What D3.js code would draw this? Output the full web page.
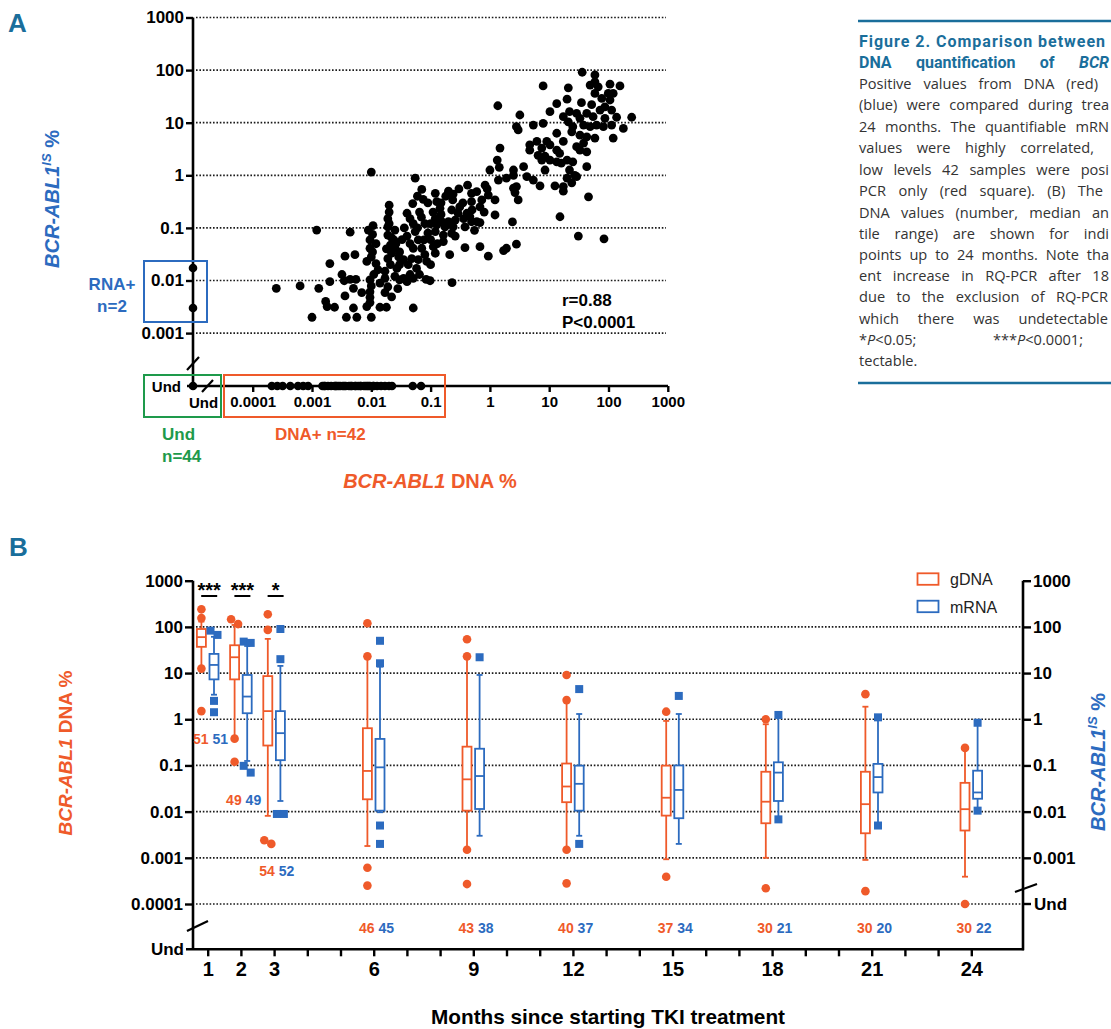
<!DOCTYPE html>
<html>
<head>
<meta charset="utf-8">
<script src="https://cdn.jsdelivr.net/npm/d3@7"></script>
<style>
body { margin: 0; background: #fff; }
svg { display: block; }
</style>
</head>
<body>
<div id="container"></div>
<script>
// ---------- panel A data : BCR-ABL1 DNA % vs mRNA IS % ----------
let dnaTicksA = [1e-4, 1e-3, 0.01, 0.1, 1, 10, 100, 1000];
let rnaTicksA = [1e-3, 0.01, 0.1, 1, 10, 100, 1000];

// [DNA %, mRNA IS %] for samples positive by both methods
let bothPos = [
  [0.01,1.15],[0.055,0.88],[0.071,0.54],[0.02,0.27],[0.05,0.29],[0.04,0.19],[0.0012,0.091],[0.0044,0.083],
  [0.0089,0.091],[0.019,0.15],[0.019,0.105],[0.025,0.091],[0.019,0.073],[0.024,0.059],[0.021,0.047],[0.025,0.041],
  [0.022,0.033],[0.019,0.026],[0.029,0.028],[0.021,0.02],[0.03,0.02],[0.027,0.017],[0.051,0.12],[0.055,0.085],
  [0.062,0.059],[0.077,0.059],[0.051,0.041],[0.071,0.041],[0.08,0.031],[0.048,0.026],[0.062,0.025],[0.086,0.023],
  [0.042,0.02],[0.058,0.017],[0.0095,0.059],[0.0095,0.041],[0.01,0.028],[0.0084,0.023],[0.012,0.021],[0.0053,0.031],
  [0.0036,0.029],[0.002,0.021],[0.00025,0.0071],[0.00063,0.0079],[0.0013,0.0071],[0.002,0.0095],[0.0032,0.013],[0.0035,0.0099],
  [0.0044,0.0105],[0.0055,0.0105],[0.0095,0.0103],[0.01,0.0079],[0.0095,0.0061],[0.0095,0.0048],[0.014,0.0089],[0.017,0.011],
  [0.019,0.0076],[0.017,0.0059],[0.022,0.0049],[0.03,0.0103],[0.04,0.0095],[0.051,0.011],[0.084,0.0105],[0.005,0.0071],
  [0.0069,0.0059],[0.0036,0.0051],[0.0017,0.004],[0.0018,0.0032],[0.0024,0.0031],[0.005,0.003],[0.0084,0.0032],[0.0095,0.0038],
  [0.014,0.0031],[0.018,0.0031],[0.051,0.003],[0.001,0.002],[0.0038,0.002],[0.0057,0.002],[0.01,0.002],[0.23,0.0091],
  [0.098,0.0099],[1.36,21],[1.33,1.95],[1.44,1.42],[1.0,1.26],[1.39,0.81],[0.83,0.65],[0.6,0.49],
  [0.49,0.455],[0.94,0.42],[1.22,0.34],[0.73,0.34],[0.49,0.315],[0.68,0.25],[1.22,0.176],[0.12,0.455],
  [0.127,0.315],[0.24,0.44],[0.236,0.34],[0.144,0.236],[0.31,0.25],[0.227,0.219],[0.29,0.19],[0.41,0.19],
  [0.46,0.163],[0.36,0.15],[0.49,0.131],[0.6,0.131],[0.26,0.141],[0.2,0.131],[0.154,0.131],[0.12,0.152],
  [0.127,0.114],[0.175,0.105],[0.24,0.105],[0.38,0.105],[0.68,0.126],[0.227,0.079],[0.164,0.073],[0.12,0.085],
  [0.164,0.055],[0.111,0.044],[0.21,0.031],[0.38,0.042],[0.68,0.044],[0.94,0.029],[36,91],[59,81],
  [59,60],[49,52],[67,48],[106,54],[156,50],[7.9,50],[21,46],[59,36],
  [99,36],[120,36],[77,29],[106,27],[20,28],[13.4,23],[35,24],[52,22],
  [87,20],[72,17.4],[113,17.4],[22,16.2],[10.3,16.2],[29,15],[43,15],[55,13],
  [33,12.1],[17.3,13],[87,12.1],[137,12.7],[246,12.7],[3.2,14],[2.8,8.4],[3.0,7.3],
  [5.4,9.0],[7.9,9.7],[21,10.4],[25,8.4],[38,9.0],[49,8.4],[63,9.0],[82,8.4],
  [113,9.0],[178,7.8],[120,5.1],[13.4,6.3],[24,6.7],[33,5.8],[43,5.4],[59,5.1],
  [38,4.1],[17.3,4.4],[6.2,4.4],[4.7,3.8],[9.1,4.4],[10.3,3.8],[29,3.5],[33,3.0],
  [43,2.8],[13.4,3.0],[7.5,3.3],[4.7,3.0],[6.5,2.4],[8.5,2.3],[15,2.6],[20,1.95],
  [13.4,1.8],[10.3,1.95],[16,1.7],[25,1.8],[22,1.26],[27,1.0],[43,1.46],[8.5,1.26],
  [7.5,1.95],[1.48,3.3],[1.9,0.88],[2.5,1.0],[2.5,1.26],[3.7,1.46],[4.2,0.94],[5.4,0.81],
  [2.5,0.57],[2.8,0.61],[2.65,0.47],[3.0,0.34],[7.0,0.63],[12.5,0.63],[17.3,0.61],[17.3,0.5],
  [20,0.88],[24,0.72],[29,0.94],[46,0.39],[15.2,0.163],[31,0.07],[84,0.062],[2.4,0.13],
  [1.7,0.037],[1.9,0.041],[2.8,0.049],
  // dense, overlapping part of the main cluster
  [0.02,0.2],[0.02,0.12],[0.022,0.065],[0.018,0.04],[0.026,0.05],[0.03,0.035],[0.033,0.06],[0.036,0.1],
  [0.04,0.07],[0.045,0.05],[0.045,0.15],[0.06,0.1],[0.065,0.2],[0.07,0.16],[0.08,0.12],[0.09,0.08],
  [0.1,0.06],[0.1,0.12],[0.11,0.2],[0.09,0.3],[0.075,0.35],[0.06,0.4],[0.15,0.18],[0.13,0.05],
  [0.035,0.025],[0.045,0.013],[0.012,0.05],[0.011,0.013],[0.013,0.016],[0.025,0.012],[0.028,0.007],[0.0105,0.035],
  [0.0105,0.075],[0.0107,0.11],[0.017,0.015],[0.035,0.011],[0.065,0.013],[0.1,0.02],[0.12,0.033],[0.15,0.3],
  [0.18,0.4],[0.3,0.55],[0.35,0.3],[0.5,0.22],[0.2,0.5],[0.42,0.65],[0.26,0.07],[0.55,0.09],[0.8,0.2],[0.9,0.55]
];
// DNA positive, mRNA undetectable (n=42)
let dnaOnly = [0.00021,0.00026,0.00032,0.00043,0.00058,0.00071,0.00086,0.0015,0.0016,0.00166,
  0.00186,0.0021,0.0024,0.0025,0.0026,0.0028,0.003,0.0033,0.0035,0.0037,0.0042,0.0045,0.0047,
  0.0053,0.0055,0.006,0.0065,0.0067,0.0075,0.008,0.0085,0.009,0.0095,0.0107,0.011,0.0125,
  0.0146,0.017,0.0199,0.0223,0.05,0.069];
// mRNA positive, DNA undetectable (n=2)
let rnaOnly = [0.0173, 0.003];
let bothUnd = [44];

// ---------- panel B data : box plots by month ----------
let months = [1, 2, 3, 6, 9, 12, 15, 18, 21, 24];
let dnaN = [51, 49, 54, 46, 43, 40, 37, 30, 30, 30];
let rnaN = [51, 49, 52, 45, 38, 37, 34, 21, 20, 22];

let dnaLo  = [12.7, 0.39, 0.0081, 0.0018, 0.0015, 0.0015, 0.00093, 0.001, 0.0009, 0.00039];
let dnaQ1  = [37, 7.3, 0.27, 0.0185, 0.0105, 0.016, 0.0082, 0.0056, 0.0034, 0.0039];
let dnaMed = [60, 22, 1.5, 0.076, 0.05, 0.035, 0.02, 0.0164, 0.0145, 0.0113];
let dnaQ3  = [90, 40, 8.6, 0.64, 0.255, 0.11, 0.099, 0.073, 0.073, 0.042];
let dnaHi  = [130, 110, 55, 21, 23, 2.6, 0.92, 0.78, 1.87, 0.235];
let dnaOut = [[240,155,12.5,1.5],[115,146,0.38,0.12],[187,86,0.002,0.0024],[120,23,0.00061,0.00025],
  [54,23,0.0015,0.00027],[9.1,2.6,0.0015,0.00028],[1.46,0.00039],[1.0,0.00022],[3.5,0.00019],[0.24,0.0001]];

let rnaLo  = [3.4, 0.125, 0.017, 0.0097, 0.003, 0.003, 0.002, 0.0068, 0.005, 0.0105];
let rnaQ1  = [7.3, 1.35, 0.13, 0.0105, 0.0114, 0.0105, 0.0072, 0.017, 0.026, 0.019];
let rnaMed = [15, 3.1, 0.5, 0.091, 0.059, 0.04, 0.0295, 0.07, 0.056, 0.026];
let rnaQ3  = [26, 9.1, 1.5, 0.375, 0.23, 0.099, 0.1, 0.117, 0.108, 0.077];
let rnaHi  = [61, 38.6, 14.3, 13.8, 9.1, 1.3, 1.3, 1.24, 1.1, 0.84];
let rnaOut = [[67,83,2.5,1.42],[48,45,0.07,0.098],[90,20,0.0089,0.0089],[50,16.3,0.005,0.002],
  [22],[4.5,0.002],[3.2],[1.24,0.0068],[1.1,0.005],[0.84,0.0105]];

let sigMonths = [1, 2, 3];
let sigLabels = ['***', '***', '*'];
let dnaTicksB = [1e-4, 1e-3, 0.01, 0.1, 1, 10, 100, 1000];
let rnaTicksB = [1e-3, 0.01, 0.1, 1, 10, 100, 1000];
let gridB = [1e-4, 1e-3, 0.01, 0.1, 1, 10, 100];
let tickMonths = d3.range(1, 25);
let labelMonths = [1, 2, 3, 6, 9, 12, 15, 18, 21, 24];

// ---------- drawing ----------
let w = 1111;
let h = 1029;
let red = '#ef5a2a', blue = '#2c6bbf', green = '#1e9a4b', teal = '#1a6e9b';
let tickFont = "'Liberation Sans', Arial, sans-serif";
let narrowFont = "'Liberation Sans Narrow', 'Liberation Sans', Arial, sans-serif";
let capFont = "'Open Sans', Roboto, sans-serif";
let fmt = d => String(+d.toPrecision(1));

let viz = d3.select('#container').append('svg')
    .attr('width', w)
    .attr('height', h)
    .attr('font-family', tickFont);

function styleAxis(g, size) {
  g.select('.domain').remove();
  g.attr('font-size', size).attr('font-weight', 'bold').attr('font-family', tickFont);
  g.selectAll('line').attr('stroke', '#000').attr('stroke-width', 2.4);
  g.selectAll('text').attr('fill', '#000');
}

function dotted(sel) {
  sel.attr('stroke', '#1a1a1a').attr('stroke-width', 1.7).attr('stroke-dasharray', '1.6,1.8');
}

// ===== panel A =====
let xA = d3.scaleLog().domain([1e-4, 1e3]).range([252.7, 667.8]);
let yA = d3.scaleLog().domain([1e-3, 1e3]).range([333.1, 17.5]);
let undXA = 193, undYA = 386;

viz.append('text').text('A')
    .attr('x', 8).attr('y', 32)
    .attr('fill', teal).attr('font-family', narrowFont)
    .attr('font-weight', 'bold').attr('font-size', 26);

viz.selectAll('.gridA').data(rnaTicksA).enter().append('line')
    .attr('x1', 196).attr('x2', 666)
    .attr('y1', d => yA(d)).attr('y2', d => yA(d))
    .call(dotted);

let yAxA = viz.append('g').attr('transform', 'translate(193,0)')
    .call(d3.axisLeft(yA).tickValues(rnaTicksA).tickFormat(fmt).tickSize(7).tickPadding(2));
styleAxis(yAxA, 17);

let xAxA = viz.append('g').attr('transform', 'translate(0,' + undYA + ')')
    .call(d3.axisBottom(xA).tickValues(dnaTicksA).tickFormat(fmt).tickSize(6).tickPadding(4));
styleAxis(xAxA, 15);

// axis lines with the "Und" break
viz.append('line').attr('x1', undXA).attr('x2', undXA).attr('y1', 17.5).attr('y2', undYA)
    .attr('stroke', '#000').attr('stroke-width', 2.6);
viz.append('line').attr('x1', 187).attr('x2', 668).attr('y1', undYA).attr('y2', undYA)
    .attr('stroke', '#000').attr('stroke-width', 2.6);
viz.append('line').attr('x1', 187).attr('y1', 370).attr('x2', 199).attr('y2', 357)
    .attr('stroke', '#000').attr('stroke-width', 2.2);
viz.append('line').attr('x1', 202).attr('y1', 392).attr('x2', 213).attr('y2', 380)
    .attr('stroke', '#000').attr('stroke-width', 2.2);
viz.append('text').text('Und').attr('x', 181).attr('y', undYA + 5.5)
    .attr('text-anchor', 'end').attr('font-size', 15).attr('font-weight', 'bold');
viz.append('text').text('Und').attr('x', 189).attr('y', 408)
    .attr('font-size', 15).attr('font-weight', 'bold');

// points
viz.selectAll('.ptA').data(bothPos).enter().append('circle')
    .attr('cx', d => xA(d[0])).attr('cy', d => yA(d[1]))
    .attr('r', 4.4).attr('fill', '#000');
viz.selectAll('.ptDna').data(dnaOnly).enter().append('circle')
    .attr('cx', d => xA(d)).attr('cy', undYA)
    .attr('r', 4.3).attr('fill', '#000');
viz.selectAll('.ptRna').data(rnaOnly).enter().append('circle')
    .attr('cx', undXA).attr('cy', d => yA(d))
    .attr('r', 4.3).attr('fill', '#000');
viz.selectAll('.ptUnd').data(bothUnd).enter().append('circle')
    .attr('cx', undXA).attr('cy', undYA)
    .attr('r', 4.3).attr('fill', '#000');

// annotation boxes
viz.append('rect').attr('x', 144).attr('y', 261).attr('width', 63).attr('height', 61)
    .attr('fill', 'none').attr('stroke', blue).attr('stroke-width', 2);
viz.append('rect').attr('x', 144).attr('y', 375).attr('width', 77).attr('height', 42)
    .attr('fill', 'none').attr('stroke', green).attr('stroke-width', 2);
viz.append('rect').attr('x', 224).attr('y', 375).attr('width', 221).attr('height', 42)
    .attr('fill', 'none').attr('stroke', red).attr('stroke-width', 2);

viz.append('text').text('RNA+').attr('x', 112).attr('y', 290).attr('text-anchor', 'middle')
    .attr('fill', blue).attr('font-size', 17).attr('font-weight', 'bold');
viz.append('text').text('n=2').attr('x', 112).attr('y', 312).attr('text-anchor', 'middle')
    .attr('fill', blue).attr('font-size', 17).attr('font-weight', 'bold');
viz.append('text').text('Und').attr('x', 162).attr('y', 440)
    .attr('fill', green).attr('font-size', 17).attr('font-weight', 'bold');
viz.append('text').text('n=44').attr('x', 162).attr('y', 462)
    .attr('fill', green).attr('font-size', 17).attr('font-weight', 'bold');
viz.append('text').text('DNA+ n=42').attr('x', 275).attr('y', 440)
    .attr('fill', red).attr('font-size', 17).attr('font-weight', 'bold');

viz.append('text').text('r=0.88').attr('x', 562).attr('y', 306)
    .attr('font-size', 17).attr('font-weight', 'bold');
viz.append('text').text('P<0.0001').attr('x', 562).attr('y', 328)
    .attr('font-size', 17).attr('font-weight', 'bold');

// axis titles A
let titleXA = viz.append('text').attr('x', 430).attr('y', 488).attr('text-anchor', 'middle')
    .attr('fill', red).attr('font-size', 20).attr('font-weight', 'bold');
titleXA.append('tspan').text('BCR-ABL1').attr('font-style', 'italic');
titleXA.append('tspan').text(' DNA %');

function isTitle(x, y, size) {
  let t = viz.append('text').attr('transform', 'translate(' + x + ',' + y + ') rotate(-90)')
      .attr('text-anchor', 'middle').attr('fill', blue)
      .attr('font-size', size).attr('font-weight', 'bold');
  t.append('tspan').text('BCR-ABL1').attr('font-style', 'italic');
  t.append('tspan').text('IS').attr('font-style', 'italic').attr('font-size', size * 0.65).attr('dy', -size * 0.38);
  t.append('tspan').text(' %').attr('dy', size * 0.38);
}
isTitle(59, 199, 20);

// ===== caption (the reference cuts it at the right edge) =====
let capX = 859;
viz.append('line').attr('x1', 858).attr('x2', w).attr('y1', 21).attr('y2', 21)
    .attr('stroke', teal).attr('stroke-width', 2.5);
viz.append('line').attr('x1', 858).attr('x2', w).attr('y1', 383).attr('y2', 383)
    .attr('stroke', teal).attr('stroke-width', 2.5);

viz.append('text').text('Figure 2. Comparison between')
    .attr('x', capX).attr('y', 46.5).attr('fill', teal)
    .attr('font-family', "Roboto, sans-serif").attr('font-weight', 'bold').attr('font-size', 16)
    .attr('textLength', 246).attr('lengthAdjust', 'spacing');

let capLines = [
  ['DNA quantification of _BCR_', 1109, 68],
  ['Positive values from DNA (red)', 1098, 88.5],
  ['(blue) were compared during trea', 1109, 110],
  ['24 months. The quantifiable mRN', 1109, 131.5],
  ['values were highly correlated,', 1094, 153],
  ['low levels 42 samples were posi', 1109, 174.5],
  ['PCR only (red square). (B) The', 1103, 196],
  ['DNA values (number, median an', 1109, 217.5],
  ['tile range) are shown for indi', 1109, 238.5],
  ['points up to 24 months. Note tha', 1109, 259.5],
  ['ent increase in RQ-PCR after 18', 1109, 281],
  ['due to the exclusion of RQ-PCR', 1108, 302],
  ['which there was undetectable', 1108, 323.5],
  ['*_P_<0.05; ***_P_<0.0001;', 1083, 344.5],
  ['tectable.', 0, 366]
];
capLines.forEach((ln, i) => {
  let title = i === 0;
  let t = viz.append('text').attr('x', capX).attr('y', ln[2])
      .attr('font-family', title ? "Roboto, sans-serif" : capFont)
      .attr('font-size', title ? 16 : 14.6)
      .attr('font-weight', title ? 'bold' : 'normal')
      .attr('fill', title ? teal : '#333');
  ln[0].split('_').forEach((part, k) => {
    t.append('tspan').text(part).attr('font-style', k % 2 ? 'italic' : 'normal');
  });
  if (ln[1] > 0) {
    let len = t.node().getComputedTextLength();
    let gaps = ln[0].trim().split(/\s+/).length - 1;
    let ws = (ln[1] - capX - len) / gaps;
    if (gaps > 0 && ws > 0) t.attr('word-spacing', ws);
    else if (ws < 0) t.attr('textLength', ln[1] - capX).attr('lengthAdjust', 'spacingAndGlyphs');
  }
});

// ===== panel B =====
let xB = d3.scaleLinear().domain([0, 25]).range([174.5, 1004.5]);
let yB = d3.scaleLog().domain([1e-4, 1e3]).range([904, 580.7]);
let undDnaB = 949.3, undRnaB = 904;
let leftB = 193, rightB = 1023;

viz.append('text').text('B')
    .attr('x', 9).attr('y', 556)
    .attr('fill', teal).attr('font-family', narrowFont)
    .attr('font-weight', 'bold').attr('font-size', 26);

viz.selectAll('.gridB').data(gridB).enter().append('line')
    .attr('x1', leftB + 3).attr('x2', rightB - 2)
    .attr('y1', d => yB(d)).attr('y2', d => yB(d))
    .call(dotted);

let yAxB = viz.append('g').attr('transform', 'translate(' + leftB + ',0)')
    .call(d3.axisLeft(yB).tickValues(dnaTicksB).tickFormat(fmt).tickSize(8).tickPadding(2));
styleAxis(yAxB, 17);
let yAxB2 = viz.append('g').attr('transform', 'translate(' + rightB + ',0)')
    .call(d3.axisRight(yB).tickValues(rnaTicksB).tickFormat(fmt).tickSize(8).tickPadding(2));
styleAxis(yAxB2, 17);
let xAxB = viz.append('g').attr('transform', 'translate(0,' + undDnaB + ')')
    .call(d3.axisBottom(xB).tickValues(tickMonths)
      .tickFormat(d => labelMonths.includes(d) ? d : '').tickSize(7).tickPadding(6));
styleAxis(xAxB, 20);
xAxB.selectAll('text').attr('font-family', narrowFont);

viz.append('line').attr('x1', leftB).attr('x2', leftB).attr('y1', 580.7).attr('y2', undDnaB)
    .attr('stroke', '#000').attr('stroke-width', 2.6);
viz.append('line').attr('x1', rightB).attr('x2', rightB).attr('y1', 580.7).attr('y2', undDnaB + 1)
    .attr('stroke', '#000').attr('stroke-width', 2.6);
viz.append('line').attr('x1', leftB - 7).attr('x2', rightB + 1).attr('y1', undDnaB).attr('y2', undDnaB)
    .attr('stroke', '#000').attr('stroke-width', 2.6);
viz.append('line').attr('x1', 187).attr('y1', 931).attr('x2', 208).attr('y2', 921)
    .attr('stroke', '#000').attr('stroke-width', 2.2);
viz.append('line').attr('x1', 1015).attr('y1', 892).attr('x2', 1037).attr('y2', 884)
    .attr('stroke', '#000').attr('stroke-width', 2.2);
// Und ticks
viz.append('text').text('Und').attr('x', 184).attr('y', undDnaB + 6)
    .attr('text-anchor', 'end').attr('font-size', 17).attr('font-weight', 'bold');
viz.append('line').attr('x1', rightB).attr('x2', rightB + 8).attr('y1', undRnaB).attr('y2', undRnaB)
    .attr('stroke', '#000').attr('stroke-width', 2.4);
viz.append('text').text('Und').attr('x', 1034).attr('y', undRnaB + 6)
    .attr('font-size', 17).attr('font-weight', 'bold');

// box table built from the arrays
let series = [
  {key: 'dna', col: red, off: -6.3, lo: dnaLo, q1: dnaQ1, med: dnaMed, q3: dnaQ3, hi: dnaHi, out: dnaOut, n: dnaN},
  {key: 'rna', col: blue, off: 6.3, lo: rnaLo, q1: rnaQ1, med: rnaMed, q3: rnaQ3, hi: rnaHi, out: rnaOut, n: rnaN}
];
let boxes = [];
series.forEach(s => months.forEach((m, i) => boxes.push({
  s: s, m: m, lo: s.lo[i], q1: s.q1[i], med: s.med[i], q3: s.q3[i], hi: s.hi[i], out: s.out[i], n: s.n[i]
})));
let bw = 9;

let bg = viz.selectAll('.box').data(boxes).enter().append('g')
    .attr('transform', d => 'translate(' + (xB(d.m) + d.s.off) + ',0)');
bg.append('line').attr('x1', 0).attr('x2', 0)
    .attr('y1', d => yB(d.hi)).attr('y2', d => yB(d.lo))
    .attr('stroke', d => d.s.col).attr('stroke-width', 1.8);
bg.append('line').attr('x1', -3).attr('x2', 3)
    .attr('y1', d => yB(d.hi)).attr('y2', d => yB(d.hi))
    .attr('stroke', d => d.s.col).attr('stroke-width', 1.8);
bg.append('line').attr('x1', -3).attr('x2', 3)
    .attr('y1', d => yB(d.lo)).attr('y2', d => yB(d.lo))
    .attr('stroke', d => d.s.col).attr('stroke-width', 1.8);
bg.append('rect').attr('x', -bw / 2).attr('width', bw)
    .attr('y', d => yB(d.q3)).attr('height', d => yB(d.q1) - yB(d.q3))
    .attr('fill', '#fff').attr('stroke', d => d.s.col).attr('stroke-width', 1.8);
bg.append('line').attr('x1', -bw / 2).attr('x2', bw / 2)
    .attr('y1', d => yB(d.med)).attr('y2', d => yB(d.med))
    .attr('stroke', d => d.s.col).attr('stroke-width', 1.8);

// outliers, pairs that would overlap are set side by side
function dodge(vals) {
  let pts = vals.map(v => ({v: v, y: yB(v), dx: 0})).sort((a, b) => a.y - b.y);
  for (let k = 1; k < pts.length; k++) {
    if (pts[k].y - pts[k - 1].y < 7 && pts[k - 1].dx === 0) { pts[k - 1].dx = -3.5; pts[k].dx = 3.5; }
  }
  return pts;
}
bg.each(function (d) {
  let g = d3.select(this);
  let pts = dodge(d.out);
  if (d.s.key === 'dna') {
    g.selectAll('.o').data(pts).enter().append('circle')
        .attr('cx', p => p.dx).attr('cy', p => p.y).attr('r', 4.3).attr('fill', d.s.col);
  } else {
    g.selectAll('.o').data(pts).enter().append('rect')
        .attr('x', p => p.dx - 4).attr('y', p => p.y - 4).attr('width', 8).attr('height', 8)
        .attr('fill', d.s.col);
  }
});

// n labels
months.forEach((m, i) => {
  let low = d3.min([dnaLo[i], rnaLo[i]].concat(dnaOut[i], rnaOut[i]));
  let y = m < 6 ? yB(low) + 32 : 932.5;
  viz.append('text').text(dnaN[i]).attr('x', xB(m) - 7).attr('y', y).attr('text-anchor', 'middle')
      .attr('fill', red).attr('font-size', 14).attr('font-weight', 'bold');
  viz.append('text').text(rnaN[i]).attr('x', xB(m) + 12.5).attr('y', y).attr('text-anchor', 'middle')
      .attr('fill', blue).attr('font-size', 14).attr('font-weight', 'bold');
});

// significance
sigMonths.forEach((m, i) => {
  viz.append('line').attr('x1', xB(m) - 6.5).attr('x2', xB(m) + 9.5).attr('y1', 596).attr('y2', 596)
      .attr('stroke', '#000').attr('stroke-width', 2);
  viz.append('text').text(sigLabels[i]).attr('x', xB(m) + 1.5).attr('y', 597)
      .attr('text-anchor', 'middle').attr('font-size', 20).attr('font-weight', 'bold');
});

// legend
[['gDNA', red, 573.3], ['mRNA', blue, 600.7]].forEach(l => {
  viz.append('rect').attr('x', 917.5).attr('y', l[2]).attr('width', 21).attr('height', 11.5)
      .attr('fill', 'none').attr('stroke', l[1]).attr('stroke-width', 1.8);
  viz.append('text').text(l[0]).attr('x', 950).attr('y', l[2] + 12)
      .attr('font-size', 16).attr('fill', '#222');
});

// titles B
let titleYB = viz.append('text').attr('transform', 'translate(72,753) rotate(-90)')
    .attr('text-anchor', 'middle').attr('fill', red)
    .attr('font-size', 19).attr('font-weight', 'bold');
titleYB.append('tspan').text('BCR-ABL1').attr('font-style', 'italic');
titleYB.append('tspan').text(' DNA %');
isTitle(1105, 762, 20);

viz.append('text').text('Months since starting TKI treatment')
    .attr('x', 608).attr('y', 1024).attr('text-anchor', 'middle')
    .attr('font-family', narrowFont).attr('font-size', 21).attr('font-weight', 'bold')
    .attr('textLength', 354).attr('lengthAdjust', 'spacingAndGlyphs');
</script>
</body>
</html>
